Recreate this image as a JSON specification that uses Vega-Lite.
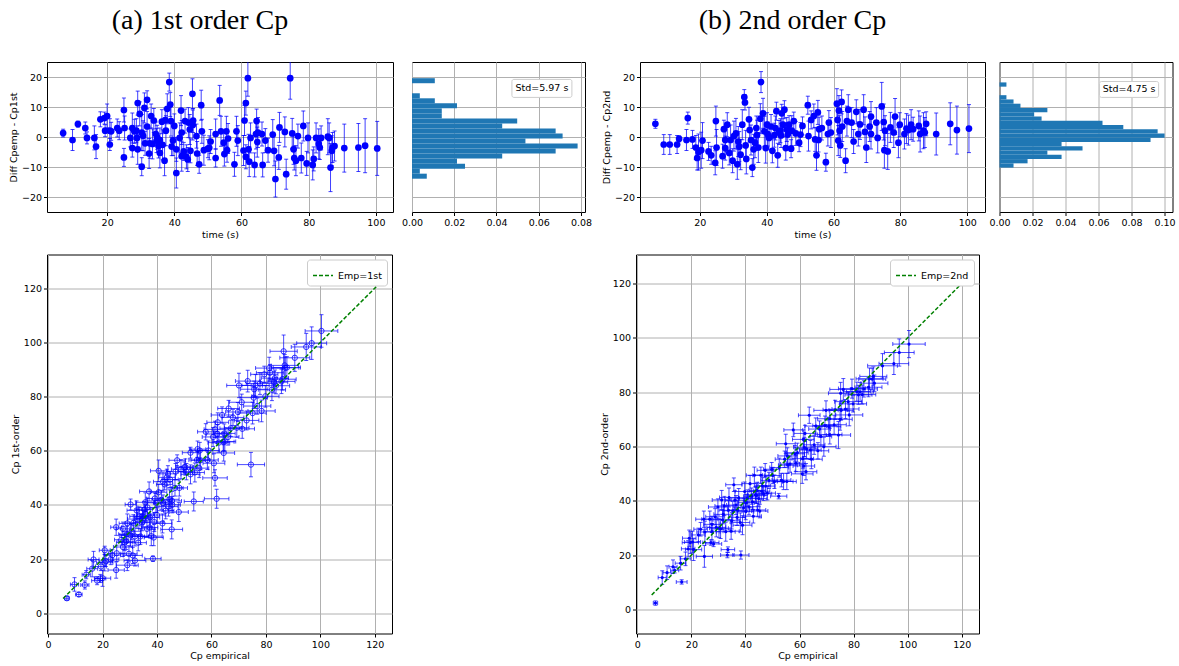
{
"$schema":"https://vega.github.io/schema/vega-lite/v6.json",
"padding":{"left":7,"top":6,"right":0,"bottom":0},
"background":"white",
"config":{
 "font":"DejaVu Sans",
 "view":{"stroke":"black","strokeWidth":1},
 "axis":{"domain":false,"grid":true,"gridColor":"#b0b0b0","gridWidth":1,"tickColor":"black","tickSize":3.5,"tickWidth":1,"labelFont":"DejaVu Sans","labelFontSize":9.5,"labelColor":"black","titleFont":"DejaVu Sans","titleFontSize":9.5,"titleFontWeight":"normal","titleColor":"black","labelPadding":2,"titlePadding":3,"labelFlush":false},
 "title":{"font":"Liberation Serif","fontSize":28,"fontWeight":"normal","anchor":"middle","color":"black","offset":27}
},
"datasets":{
 "A":[
{"t":6.9,"d":1.3,"ed":1.3,"c":5.6,"ex":0.8,"ec":0.7},
{"t":9.7,"d":-1.0,"ed":3.5,"c":10.7,"ex":1.5,"ec":2.5},
{"t":11.3,"d":4.3,"ed":1.0,"c":7.0,"ex":1.2,"ec":0.8},
{"t":13.5,"d":3.0,"ed":2.0,"c":10.5,"ex":1.5,"ec":1.5},
{"t":14.0,"d":-0.3,"ed":2.0,"c":14.3,"ex":1.5,"ec":1.5},
{"t":16.2,"d":-0.3,"ed":4.0,"c":16.5,"ex":2,"ec":3},
{"t":16.7,"d":-3.2,"ed":4.0,"c":19.9,"ex":2,"ec":3},
{"t":18.0,"d":5.9,"ed":2.5,"c":12.1,"ex":2,"ec":1.5},
{"t":19.2,"d":6.3,"ed":2.0,"c":12.9,"ex":2,"ec":1.5},
{"t":19.4,"d":2.1,"ed":2.0,"c":17.3,"ex":2,"ec":1.5},
{"t":20.0,"d":7.0,"ed":4.0,"c":13.0,"ex":3,"ec":3},
{"t":20.8,"d":2.1,"ed":4.0,"c":18.7,"ex":3,"ec":3},
{"t":20.8,"d":-2.5,"ed":2.0,"c":23.3,"ex":2,"ec":1.5},
{"t":21.2,"d":1.9,"ed":3.0,"c":19.3,"ex":2.5,"ec":2},
{"t":23.0,"d":3.0,"ed":3.0,"c":20.0,"ex":3,"ec":2},
{"t":23.6,"d":2.1,"ed":3.0,"c":21.5,"ex":3,"ec":2},
{"t":25.0,"d":9.0,"ed":4.0,"c":16.0,"ex":3,"ec":3},
{"t":25.0,"d":-6.8,"ed":3.0,"c":31.8,"ex":2,"ec":3},
{"t":25.2,"d":3.0,"ed":4.0,"c":22.2,"ex":3,"ec":3},
{"t":26.9,"d":-0.3,"ed":3.0,"c":27.2,"ex":2.5,"ec":2},
{"t":27.5,"d":-3.7,"ed":3.0,"c":31.2,"ex":2.5,"ec":2.5},
{"t":27.5,"d":3.0,"ed":5.0,"c":24.5,"ex":3.5,"ec":3.5},
{"t":28.1,"d":1.9,"ed":4.0,"c":26.2,"ex":3,"ec":3},
{"t":28.7,"d":2.1,"ed":4.0,"c":26.6,"ex":3,"ec":3},
{"t":29.1,"d":11.3,"ed":4.0,"c":17.8,"ex":4,"ec":2},
{"t":29.1,"d":-4.1,"ed":5.0,"c":33.2,"ex":3,"ec":3.5},
{"t":29.7,"d":7.7,"ed":4.0,"c":22.0,"ex":3,"ec":3},
{"t":30.3,"d":-9.9,"ed":3.0,"c":40.2,"ex":2,"ec":2},
{"t":30.3,"d":1.5,"ed":6.0,"c":28.8,"ex":4,"ec":4},
{"t":31.1,"d":9.7,"ed":5.0,"c":21.4,"ex":3.5,"ec":3},
{"t":31.9,"d":12.4,"ed":3.0,"c":19.5,"ex":4,"ec":2},
{"t":31.9,"d":3.5,"ed":5.0,"c":28.4,"ex":3.5,"ec":3.5},
{"t":32.5,"d":-5.5,"ed":5.0,"c":38.0,"ex":3.5,"ec":3.5},
{"t":32.7,"d":-2.1,"ed":5.0,"c":34.8,"ex":3.5,"ec":3.5},
{"t":33.1,"d":7.0,"ed":4.0,"c":26.1,"ex":3,"ec":3},
{"t":33.5,"d":-2.3,"ed":5.0,"c":35.8,"ex":3.5,"ec":3.5},
{"t":33.9,"d":5.5,"ed":4.0,"c":28.4,"ex":3,"ec":3},
{"t":34.5,"d":1.0,"ed":4.0,"c":33.5,"ex":3,"ec":3},
{"t":34.7,"d":-1.2,"ed":4.0,"c":35.9,"ex":3,"ec":3},
{"t":35.3,"d":-3.0,"ed":4.0,"c":38.3,"ex":3,"ec":3},
{"t":35.7,"d":-5.3,"ed":5.0,"c":41.0,"ex":3.5,"ec":3.5},
{"t":36.3,"d":5.1,"ed":4.0,"c":31.2,"ex":3,"ec":3},
{"t":36.5,"d":-2.6,"ed":5.0,"c":39.1,"ex":3.5,"ec":3.5},
{"t":37.1,"d":-7.9,"ed":5.0,"c":45.0,"ex":3.5,"ec":3.5},
{"t":37.5,"d":2.1,"ed":5.0,"c":35.4,"ex":3.5,"ec":3.5},
{"t":37.9,"d":9.4,"ed":5.0,"c":28.5,"ex":4,"ec":3.5},
{"t":38.5,"d":18.3,"ed":3.0,"c":20.2,"ex":3,"ec":1},
{"t":38.8,"d":10.8,"ed":4.0,"c":28.0,"ex":3.5,"ec":3},
{"t":39.0,"d":5.3,"ed":5.0,"c":33.7,"ex":3.5,"ec":3.5},
{"t":39.2,"d":-3.2,"ed":3.0,"c":42.4,"ex":3,"ec":2},
{"t":39.6,"d":-1.2,"ed":5.0,"c":40.8,"ex":3.5,"ec":3.5},
{"t":40.0,"d":3.7,"ed":4.0,"c":36.3,"ex":3,"ec":3},
{"t":40.6,"d":-12.0,"ed":5.0,"c":52.6,"ex":3,"ec":4},
{"t":41.6,"d":-0.3,"ed":5.0,"c":41.9,"ex":3.5,"ec":3.5},
{"t":42.0,"d":8.8,"ed":5.0,"c":33.2,"ex":3.5,"ec":3.5},
{"t":42.2,"d":1.5,"ed":4.0,"c":40.7,"ex":3,"ec":3},
{"t":42.8,"d":-4.8,"ed":3.0,"c":47.6,"ex":3,"ec":2},
{"t":43.2,"d":5.3,"ed":4.0,"c":37.9,"ex":3,"ec":3},
{"t":43.6,"d":-6.6,"ed":4.0,"c":50.2,"ex":3,"ec":3},
{"t":44.0,"d":-7.5,"ed":4.0,"c":51.5,"ex":3,"ec":3},
{"t":44.2,"d":4.8,"ed":5.0,"c":39.4,"ex":3.5,"ec":3.5},
{"t":44.8,"d":-4.6,"ed":4.0,"c":49.4,"ex":3,"ec":3},
{"t":45.4,"d":14.4,"ed":5.0,"c":31.0,"ex":4,"ec":3.5},
{"t":45.6,"d":5.5,"ed":4.0,"c":40.1,"ex":3,"ec":3},
{"t":46.6,"d":0.3,"ed":4.0,"c":46.3,"ex":3,"ec":3},
{"t":46.8,"d":-5.5,"ed":4.0,"c":52.3,"ex":3,"ec":3},
{"t":47.4,"d":-9.1,"ed":3.0,"c":56.5,"ex":3,"ec":2},
{"t":48.0,"d":10.6,"ed":5.0,"c":37.4,"ex":3.5,"ec":3.5},
{"t":48.2,"d":1.9,"ed":4.0,"c":46.3,"ex":3,"ec":3},
{"t":48.8,"d":-4.4,"ed":5.0,"c":53.2,"ex":3.5,"ec":3.5},
{"t":50.0,"d":-3.9,"ed":3.0,"c":53.9,"ex":3,"ec":2},
{"t":50.8,"d":-1.5,"ed":4.0,"c":52.3,"ex":3,"ec":3},
{"t":52.3,"d":-7.0,"ed":3.0,"c":59.3,"ex":3,"ec":2},
{"t":52.3,"d":1.0,"ed":5.0,"c":51.3,"ex":3.5,"ec":3.5},
{"t":53.5,"d":12.2,"ed":5.0,"c":41.3,"ex":3.5,"ec":3.5},
{"t":53.9,"d":1.9,"ed":5.0,"c":52.0,"ex":3.5,"ec":3.5},
{"t":54.7,"d":-1.9,"ed":4.0,"c":56.6,"ex":3,"ec":3},
{"t":54.9,"d":-5.7,"ed":4.0,"c":60.6,"ex":3,"ec":3},
{"t":55.5,"d":1.9,"ed":5.0,"c":53.6,"ex":3.5,"ec":3.5},
{"t":55.7,"d":-4.4,"ed":4.0,"c":60.1,"ex":3,"ec":3},
{"t":57.9,"d":-9.1,"ed":4.0,"c":67.0,"ex":3,"ec":3},
{"t":58.5,"d":1.9,"ed":5.0,"c":56.6,"ex":4,"ec":3.5},
{"t":58.9,"d":-1.2,"ed":5.0,"c":60.1,"ex":4,"ec":3.5},
{"t":60.9,"d":5.5,"ed":5.0,"c":55.4,"ex":4,"ec":3.5},
{"t":61.3,"d":11.3,"ed":4.0,"c":50.0,"ex":4.5,"ec":3},
{"t":61.3,"d":-6.6,"ed":4.0,"c":67.9,"ex":4,"ec":3},
{"t":61.9,"d":19.6,"ed":6.0,"c":42.3,"ex":4.5,"ec":3.5},
{"t":62.1,"d":-4.1,"ed":5.0,"c":66.2,"ex":4,"ec":3.5},
{"t":62.3,"d":-8.2,"ed":5.0,"c":70.5,"ex":4,"ec":3.5},
{"t":62.7,"d":-0.3,"ed":5.0,"c":63.0,"ex":4,"ec":3.5},
{"t":63.9,"d":-9.3,"ed":4.0,"c":73.2,"ex":4,"ec":3},
{"t":64.3,"d":1.0,"ed":5.0,"c":63.3,"ex":4,"ec":3.5},
{"t":64.5,"d":5.3,"ed":4.0,"c":59.2,"ex":4,"ec":3},
{"t":64.7,"d":-1.7,"ed":5.0,"c":66.4,"ex":4,"ec":3.5},
{"t":66.1,"d":1.0,"ed":4.0,"c":65.1,"ex":4,"ec":3},
{"t":66.3,"d":-9.3,"ed":4.0,"c":75.6,"ex":4,"ec":3},
{"t":67.1,"d":-1.2,"ed":4.0,"c":68.3,"ex":4,"ec":3},
{"t":67.9,"d":-4.4,"ed":4.0,"c":72.3,"ex":4,"ec":3},
{"t":69.3,"d":0.8,"ed":5.0,"c":68.5,"ex":4.5,"ec":3.5},
{"t":69.7,"d":-4.6,"ed":5.0,"c":74.3,"ex":4.5,"ec":3.5},
{"t":70.1,"d":-14.0,"ed":6.0,"c":84.1,"ex":4.5,"ec":4.5},
{"t":71.1,"d":-6.8,"ed":4.0,"c":77.9,"ex":4.5,"ec":3},
{"t":71.3,"d":3.2,"ed":5.0,"c":68.1,"ex":4.5,"ec":3.5},
{"t":72.9,"d":1.7,"ed":5.0,"c":71.2,"ex":4.5,"ec":3.5},
{"t":73.3,"d":-12.4,"ed":5.0,"c":85.7,"ex":4.5,"ec":4},
{"t":74.5,"d":19.6,"ed":7.0,"c":54.9,"ex":5,"ec":4.5},
{"t":75.1,"d":1.2,"ed":5.0,"c":73.9,"ex":5,"ec":4},
{"t":75.5,"d":-4.1,"ed":5.0,"c":79.6,"ex":5,"ec":4},
{"t":75.7,"d":-7.0,"ed":4.0,"c":82.7,"ex":5,"ec":3},
{"t":76.2,"d":-7.9,"ed":5.0,"c":84.1,"ex":5,"ec":4},
{"t":76.8,"d":0.3,"ed":4.0,"c":76.5,"ex":5,"ec":3},
{"t":77.8,"d":-7.0,"ed":5.0,"c":84.8,"ex":5,"ec":4},
{"t":78.4,"d":3.7,"ed":5.0,"c":74.7,"ex":5,"ec":4},
{"t":79.4,"d":-8.8,"ed":4.0,"c":88.2,"ex":5,"ec":3},
{"t":79.8,"d":-0.3,"ed":5.0,"c":80.1,"ex":5,"ec":4},
{"t":81.2,"d":-9.3,"ed":5.0,"c":90.5,"ex":5,"ec":4},
{"t":81.5,"d":-7.3,"ed":4.0,"c":88.8,"ex":5,"ec":3},
{"t":82.2,"d":-0.3,"ed":5.0,"c":82.5,"ex":5,"ec":4},
{"t":83.0,"d":-2.3,"ed":5.0,"c":85.3,"ex":5,"ec":4},
{"t":83.3,"d":-3.5,"ed":4.0,"c":86.8,"ex":5,"ec":3},
{"t":83.7,"d":-0.3,"ed":4.0,"c":84.0,"ex":5,"ec":3},
{"t":85.7,"d":0.1,"ed":6.0,"c":85.6,"ex":5,"ec":4.5},
{"t":86.1,"d":-0.3,"ed":5.0,"c":86.4,"ex":5,"ec":4},
{"t":86.5,"d":-10.2,"ed":8.0,"c":96.7,"ex":5,"ec":6},
{"t":86.9,"d":-4.6,"ed":5.0,"c":91.5,"ex":5,"ec":4},
{"t":87.1,"d":-3.5,"ed":5.0,"c":90.6,"ex":5,"ec":4},
{"t":87.7,"d":-3.0,"ed":5.0,"c":90.7,"ex":5,"ec":4},
{"t":90.6,"d":-3.7,"ed":8.0,"c":94.3,"ex":5.5,"ec":5},
{"t":94.8,"d":-3.5,"ed":8.0,"c":98.3,"ex":5.5,"ec":5},
{"t":96.8,"d":-2.9,"ed":9.0,"c":99.7,"ex":5.5,"ec":6},
{"t":100.4,"d":-3.8,"ed":9.0,"c":104.2,"ex":6,"ec":6},
{"t":28.9,"d":-0.3,"ed":4.0,"c":29.2,"ex":3,"ec":3},
{"t":31.3,"d":-2.1,"ed":4.0,"c":33.4,"ex":3,"ec":3},
{"t":30.7,"d":0.4,"ed":5.0,"c":30.3,"ex":3.5,"ec":3},
{"t":35.7,"d":-1.0,"ed":4.0,"c":36.7,"ex":3,"ec":3},
{"t":40.6,"d":-4.1,"ed":4.0,"c":44.7,"ex":3,"ec":3},
{"t":42.2,"d":-6.4,"ed":5.0,"c":48.6,"ex":3.5,"ec":3.5},
{"t":34.9,"d":-0.1,"ed":4.0,"c":35.0,"ex":3,"ec":3},
{"t":37.3,"d":5.6,"ed":4.0,"c":31.7,"ex":3,"ec":3},
{"t":44.6,"d":2.5,"ed":5.0,"c":42.1,"ex":3.5,"ec":3.5},
{"t":50.4,"d":-3.6,"ed":4.0,"c":54.0,"ex":3,"ec":3},
{"t":56.0,"d":-0.5,"ed":5.0,"c":56.5,"ex":3.5,"ec":3.5},
{"t":60.6,"d":-4.5,"ed":5.0,"c":65.1,"ex":4,"ec":3.5},
{"t":64.9,"d":1.5,"ed":5.0,"c":63.4,"ex":4,"ec":3.5},
{"t":45.5,"d":4.0,"ed":5.0,"c":41.5,"ex":3.5,"ec":3.5}
 ],
 "B":[
{"t":6.7,"d":4.4,"ed":1.5,"c":2.3,"ex":0.8,"ec":0.8},
{"t":9.2,"d":-2.5,"ed":3.3,"c":11.7,"ex":1.5,"ec":2.5},
{"t":11.0,"d":-2.5,"ed":3.3,"c":13.5,"ex":1.5,"ec":2.5},
{"t":13.2,"d":-2.5,"ed":3.0,"c":15.7,"ex":1.5,"ec":2.5},
{"t":13.8,"d":-0.6,"ed":1.0,"c":14.4,"ex":1.5,"ec":1},
{"t":16.0,"d":-1.0,"ed":3.5,"c":17.0,"ex":2,"ec":2.5},
{"t":16.4,"d":6.3,"ed":2.0,"c":10.1,"ex":2,"ec":0.8},
{"t":17.8,"d":-0.8,"ed":3.0,"c":18.6,"ex":2,"ec":2.5},
{"t":18.8,"d":-3.5,"ed":4.0,"c":22.3,"ex":2.5,"ec":3},
{"t":19.2,"d":-7.0,"ed":4.0,"c":26.2,"ex":2.5,"ec":3},
{"t":19.6,"d":-5.0,"ed":6.0,"c":24.6,"ex":3,"ec":4},
{"t":20.4,"d":-4.4,"ed":6.0,"c":24.8,"ex":3,"ec":4},
{"t":20.8,"d":-1.2,"ed":6.0,"c":22.0,"ex":3,"ec":4},
{"t":22.6,"d":-4.8,"ed":3.0,"c":27.4,"ex":2.5,"ec":2.5},
{"t":23.4,"d":-6.1,"ed":3.0,"c":29.5,"ex":2.5,"ec":2.5},
{"t":24.6,"d":-8.6,"ed":4.0,"c":33.2,"ex":3,"ec":3},
{"t":24.8,"d":5.3,"ed":5.0,"c":19.5,"ex":3,"ec":4},
{"t":25.0,"d":-3.5,"ed":6.0,"c":28.5,"ex":3,"ec":4},
{"t":26.8,"d":-6.4,"ed":4.0,"c":33.2,"ex":3,"ec":3},
{"t":27.2,"d":2.6,"ed":3.0,"c":24.6,"ex":3,"ec":1},
{"t":27.6,"d":-1.0,"ed":4.0,"c":28.6,"ex":3,"ec":3},
{"t":27.6,"d":-3.7,"ed":4.0,"c":31.3,"ex":3,"ec":3},
{"t":28.2,"d":4.1,"ed":4.0,"c":24.1,"ex":3,"ec":1},
{"t":28.8,"d":-5.3,"ed":4.0,"c":34.1,"ex":3.5,"ec":3},
{"t":29.2,"d":-1.0,"ed":5.0,"c":30.2,"ex":3.5,"ec":3.5},
{"t":29.8,"d":-7.9,"ed":4.0,"c":37.7,"ex":3.5,"ec":3},
{"t":30.2,"d":0.3,"ed":5.0,"c":29.9,"ex":3.5,"ec":3.5},
{"t":30.8,"d":1.2,"ed":5.0,"c":29.6,"ex":3.5,"ec":3.5},
{"t":31.2,"d":-9.1,"ed":5.0,"c":40.3,"ex":3.5,"ec":3.5},
{"t":31.8,"d":-3.2,"ed":5.0,"c":35.0,"ex":3.5,"ec":3.5},
{"t":32.2,"d":-5.9,"ed":5.0,"c":38.1,"ex":3.5,"ec":3.5},
{"t":32.7,"d":4.1,"ed":5.0,"c":28.6,"ex":3.5,"ec":3.5},
{"t":33.3,"d":13.3,"ed":2.5,"c":20.0,"ex":2.5,"ec":1},
{"t":33.5,"d":11.5,"ed":2.5,"c":22.0,"ex":2.5,"ec":1},
{"t":33.7,"d":-2.8,"ed":5.0,"c":36.5,"ex":3.5,"ec":3.5},
{"t":33.9,"d":-7.3,"ed":5.0,"c":41.2,"ex":3.5,"ec":3.5},
{"t":34.7,"d":5.9,"ed":4.0,"c":28.8,"ex":3,"ec":3},
{"t":34.9,"d":2.3,"ed":4.0,"c":32.6,"ex":3,"ec":3},
{"t":35.3,"d":-1.0,"ed":5.0,"c":36.3,"ex":3.5,"ec":3.5},
{"t":35.7,"d":-10.2,"ed":3.0,"c":45.9,"ex":3,"ec":2.5},
{"t":36.1,"d":-4.1,"ed":5.0,"c":40.2,"ex":3.5,"ec":3.5},
{"t":36.5,"d":-1.9,"ed":5.0,"c":38.4,"ex":3.5,"ec":3.5},
{"t":37.1,"d":0.6,"ed":5.0,"c":36.5,"ex":3.5,"ec":3.5},
{"t":37.5,"d":-3.5,"ed":5.0,"c":41.0,"ex":3.5,"ec":3.5},
{"t":38.1,"d":6.1,"ed":5.0,"c":32.0,"ex":3.5,"ec":3.5},
{"t":38.3,"d":18.3,"ed":3.5,"c":20.0,"ex":3,"ec":1.5},
{"t":38.9,"d":7.9,"ed":5.0,"c":31.0,"ex":3.5,"ec":3.5},
{"t":39.3,"d":1.9,"ed":5.0,"c":37.4,"ex":3.5,"ec":3.5},
{"t":39.7,"d":-3.7,"ed":5.0,"c":43.4,"ex":3.5,"ec":3.5},
{"t":40.1,"d":4.1,"ed":4.0,"c":36.0,"ex":3,"ec":3},
{"t":40.7,"d":-0.3,"ed":4.0,"c":41.0,"ex":3,"ec":3},
{"t":41.3,"d":3.5,"ed":4.0,"c":37.8,"ex":3,"ec":3},
{"t":41.7,"d":-4.6,"ed":4.0,"c":46.3,"ex":3,"ec":3},
{"t":42.3,"d":0.6,"ed":4.0,"c":41.7,"ex":3,"ec":3},
{"t":42.9,"d":8.6,"ed":3.0,"c":34.3,"ex":3,"ec":2.5},
{"t":43.3,"d":-6.1,"ed":4.0,"c":49.4,"ex":3,"ec":3},
{"t":43.7,"d":1.5,"ed":4.0,"c":42.2,"ex":3,"ec":3},
{"t":44.1,"d":2.1,"ed":4.0,"c":42.0,"ex":3,"ec":3},
{"t":44.5,"d":7.9,"ed":3.0,"c":36.6,"ex":3,"ec":2.5},
{"t":44.9,"d":4.1,"ed":4.0,"c":40.8,"ex":3,"ec":3},
{"t":45.3,"d":9.1,"ed":3.0,"c":36.2,"ex":3,"ec":2.5},
{"t":45.7,"d":-3.7,"ed":4.0,"c":49.4,"ex":3,"ec":3},
{"t":46.3,"d":0.8,"ed":4.0,"c":45.5,"ex":3,"ec":3},
{"t":46.7,"d":4.1,"ed":3.0,"c":42.6,"ex":3,"ec":2.5},
{"t":47.3,"d":-3.9,"ed":3.0,"c":51.2,"ex":3,"ec":2.5},
{"t":47.5,"d":2.1,"ed":5.0,"c":45.4,"ex":3.5,"ec":3.5},
{"t":48.1,"d":5.3,"ed":3.0,"c":42.8,"ex":3,"ec":2.5},
{"t":48.7,"d":1.2,"ed":4.0,"c":47.5,"ex":3,"ec":3},
{"t":49.7,"d":-1.9,"ed":3.0,"c":51.6,"ex":3,"ec":2.5},
{"t":50.7,"d":3.7,"ed":3.0,"c":47.0,"ex":3,"ec":2.5},
{"t":52.3,"d":10.6,"ed":3.0,"c":41.7,"ex":3,"ec":1},
{"t":52.5,"d":0.3,"ed":5.0,"c":52.2,"ex":3.5,"ec":3.5},
{"t":53.3,"d":5.7,"ed":3.0,"c":47.6,"ex":3.5,"ec":2.5},
{"t":54.1,"d":7.0,"ed":4.0,"c":47.1,"ex":3.5,"ec":3},
{"t":54.5,"d":-0.8,"ed":4.0,"c":55.3,"ex":3.5,"ec":3},
{"t":54.9,"d":-6.1,"ed":5.0,"c":61.0,"ex":3.5,"ec":3.5},
{"t":55.3,"d":8.2,"ed":4.0,"c":47.1,"ex":3.5,"ec":3},
{"t":55.5,"d":-1.0,"ed":4.0,"c":56.5,"ex":3.5,"ec":3},
{"t":55.7,"d":2.6,"ed":4.0,"c":53.1,"ex":3.5,"ec":3},
{"t":57.7,"d":-8.4,"ed":3.0,"c":66.1,"ex":3.5,"ec":2.5},
{"t":58.3,"d":1.0,"ed":4.0,"c":57.3,"ex":3.5,"ec":3},
{"t":58.6,"d":4.8,"ed":4.0,"c":53.8,"ex":3.5,"ec":3},
{"t":59.2,"d":1.5,"ed":5.0,"c":57.7,"ex":4,"ec":3.5},
{"t":61.0,"d":11.1,"ed":5.0,"c":49.9,"ex":4,"ec":3.5},
{"t":61.2,"d":5.7,"ed":5.0,"c":55.5,"ex":4,"ec":3.5},
{"t":61.4,"d":-1.2,"ed":5.0,"c":62.6,"ex":4,"ec":3.5},
{"t":61.6,"d":8.8,"ed":5.0,"c":52.8,"ex":4,"ec":3.5},
{"t":61.8,"d":2.1,"ed":5.0,"c":59.7,"ex":4,"ec":3.5},
{"t":62.0,"d":-2.8,"ed":4.0,"c":64.8,"ex":4,"ec":3},
{"t":62.4,"d":11.7,"ed":4.0,"c":50.7,"ex":4,"ec":3},
{"t":63.6,"d":-7.9,"ed":4.0,"c":71.5,"ex":4,"ec":3},
{"t":64.0,"d":5.3,"ed":5.0,"c":58.7,"ex":4,"ec":3.5},
{"t":64.4,"d":9.1,"ed":5.0,"c":55.3,"ex":4,"ec":3.5},
{"t":65.4,"d":4.8,"ed":5.0,"c":60.6,"ex":4,"ec":3.5},
{"t":66.0,"d":-1.5,"ed":4.0,"c":67.5,"ex":4,"ec":3},
{"t":66.8,"d":8.4,"ed":4.0,"c":58.4,"ex":4,"ec":3},
{"t":67.4,"d":1.0,"ed":4.0,"c":66.4,"ex":4,"ec":3},
{"t":69.0,"d":9.1,"ed":5.0,"c":59.9,"ex":4.5,"ec":3.5},
{"t":69.4,"d":1.7,"ed":5.0,"c":67.7,"ex":4.5,"ec":3.5},
{"t":69.8,"d":-3.5,"ed":5.0,"c":73.3,"ex":4.5,"ec":3.5},
{"t":70.8,"d":3.5,"ed":5.0,"c":67.3,"ex":4.5,"ec":3.5},
{"t":71.2,"d":6.8,"ed":5.0,"c":64.4,"ex":4.5,"ec":3.5},
{"t":71.2,"d":1.0,"ed":5.0,"c":70.2,"ex":4.5,"ec":3.5},
{"t":72.8,"d":4.8,"ed":5.0,"c":68.0,"ex":4.5,"ec":3.5},
{"t":73.2,"d":-0.3,"ed":5.0,"c":73.5,"ex":4.5,"ec":3.5},
{"t":74.4,"d":10.2,"ed":8.0,"c":64.2,"ex":4.5,"ec":5},
{"t":75.0,"d":5.0,"ed":6.0,"c":70.0,"ex":4.5,"ec":4},
{"t":75.2,"d":-4.4,"ed":6.0,"c":79.6,"ex":4.5,"ec":4},
{"t":75.4,"d":2.1,"ed":5.0,"c":73.3,"ex":4.5,"ec":3.5},
{"t":76.2,"d":-4.8,"ed":6.0,"c":81.0,"ex":5,"ec":4},
{"t":77.0,"d":3.2,"ed":5.0,"c":73.8,"ex":5,"ec":3.5},
{"t":78.0,"d":1.5,"ed":5.0,"c":76.5,"ex":5,"ec":3.5},
{"t":78.4,"d":6.8,"ed":6.0,"c":71.6,"ex":5,"ec":4},
{"t":79.4,"d":-1.9,"ed":5.0,"c":81.3,"ex":5,"ec":3.5},
{"t":79.8,"d":4.1,"ed":4.0,"c":75.7,"ex":5,"ec":3},
{"t":81.2,"d":1.0,"ed":5.0,"c":80.2,"ex":5,"ec":3.5},
{"t":81.8,"d":2.8,"ed":5.0,"c":79.0,"ex":5,"ec":3.5},
{"t":82.4,"d":2.3,"ed":5.0,"c":80.1,"ex":5,"ec":3.5},
{"t":83.2,"d":4.1,"ed":5.0,"c":79.1,"ex":5,"ec":3.5},
{"t":83.8,"d":2.6,"ed":4.0,"c":81.2,"ex":5,"ec":3},
{"t":85.5,"d":3.7,"ed":5.0,"c":81.8,"ex":5,"ec":3.5},
{"t":85.9,"d":1.0,"ed":6.0,"c":84.9,"ex":5,"ec":4},
{"t":86.9,"d":2.1,"ed":6.0,"c":84.8,"ex":5,"ec":4},
{"t":87.3,"d":1.5,"ed":5.0,"c":85.8,"ex":5,"ec":3.5},
{"t":87.7,"d":4.4,"ed":4.0,"c":83.3,"ex":5,"ec":3},
{"t":90.7,"d":1.0,"ed":7.0,"c":89.7,"ex":5.5,"ec":4.5},
{"t":94.9,"d":4.4,"ed":7.0,"c":90.5,"ex":5.5,"ec":4},
{"t":96.9,"d":2.3,"ed":8.0,"c":94.6,"ex":5.5,"ec":5},
{"t":100.5,"d":2.8,"ed":8.0,"c":97.7,"ex":6,"ec":5},
{"t":36.9,"d":3.0,"ed":4.0,"c":33.9,"ex":3,"ec":3},
{"t":40.3,"d":1.0,"ed":4.0,"c":39.3,"ex":3,"ec":3},
{"t":42.6,"d":3.0,"ed":4.0,"c":39.6,"ex":3,"ec":3},
{"t":44.3,"d":0.5,"ed":4.0,"c":43.8,"ex":3,"ec":3},
{"t":46.0,"d":2.5,"ed":4.0,"c":43.5,"ex":3,"ec":3},
{"t":31.5,"d":-1.5,"ed":5.0,"c":33.0,"ex":3.5,"ec":3.5},
{"t":50.1,"d":0.8,"ed":4.0,"c":49.3,"ex":3,"ec":3},
{"t":56.5,"d":3.0,"ed":4.0,"c":53.5,"ex":3.5,"ec":3},
{"t":62.6,"d":3.5,"ed":5.0,"c":59.1,"ex":4,"ec":3.5},
{"t":67.9,"d":4.2,"ed":5.0,"c":63.7,"ex":4,"ec":3.5}
 ],
 "hA":[
{"lo":-13.9,"hi":-12.225,"p":0.007},{"lo":-12.225,"hi":-10.55,"p":0.0037},{"lo":-10.55,"hi":-8.875,"p":0.0251},{"lo":-8.875,"hi":-7.2,"p":0.0213},{"lo":-7.2,"hi":-5.525,"p":0.0427},{"lo":-5.525,"hi":-3.85,"p":0.068},{"lo":-3.85,"hi":-2.175,"p":0.0784},{"lo":-2.175,"hi":-0.5,"p":0.0537},{"lo":-0.5,"hi":1.175,"p":0.0713},{"lo":1.175,"hi":2.85,"p":0.068},{"lo":2.85,"hi":4.525,"p":0.0427},{"lo":4.525,"hi":6.2,"p":0.0498},{"lo":6.2,"hi":7.875,"p":0.0141},{"lo":7.875,"hi":9.55,"p":0.0141},{"lo":9.55,"hi":11.225,"p":0.0213},{"lo":11.225,"hi":12.9,"p":0.0108},{"lo":12.9,"hi":14.575,"p":0.0037},{"lo":17.925,"hi":19.6,"p":0.0108}
 ],
 "hB":[
{"lo":-10.2,"hi":-8.78,"p":0.0085},{"lo":-8.78,"hi":-7.36,"p":0.017},{"lo":-7.36,"hi":-5.94,"p":0.0376},{"lo":-5.94,"hi":-4.52,"p":0.029},{"lo":-4.52,"hi":-3.1,"p":0.0503},{"lo":-3.1,"hi":-1.68,"p":0.0376},{"lo":-1.68,"hi":-0.26,"p":0.0915},{"lo":-0.26,"hi":1.16,"p":0.1},{"lo":1.16,"hi":2.58,"p":0.0958},{"lo":2.58,"hi":4.0,"p":0.075},{"lo":4.0,"hi":5.42,"p":0.0624},{"lo":5.42,"hi":6.84,"p":0.0255},{"lo":6.84,"hi":8.26,"p":0.021},{"lo":8.26,"hi":9.68,"p":0.029},{"lo":9.68,"hi":11.1,"p":0.0127},{"lo":11.1,"hi":12.52,"p":0.0085},{"lo":12.52,"hi":13.94,"p":0.0042},{"lo":16.78,"hi":18.2,"p":0.0042}
 ]
},
"spacing":14.5,
"resolve":{"scale":{"x":"independent","y":"independent","color":"independent"},"legend":{"color":"independent"}},
"vconcat":[
 {"spacing":7,
  "resolve":{"scale":{"x":"independent","y":"independent","color":"independent"}},
  "hconcat":[
  {"spacing":6,
   "resolve":{"scale":{"x":"independent","y":"independent"}},
   "hconcat":[
    {"width":346,"height":150,
     "title":{"text":"(a) 1st order Cp","dx":-20},
     "data":{"name":"A"},
     "encoding":{
      "x":{"field":"t","type":"quantitative","scale":{"domain":[2.1,105.1],"nice":false,"zero":false},"axis":{"values":[20,40,60,80,100],"title":"time (s)","titlePadding":2}},
      "y":{"field":"d","type":"quantitative","scale":{"domain":[-25,25],"nice":false},"axis":{"values":[-20,-10,0,10,20],"title":"Diff Cpemp - Cp1st"}}},
     "layer":[
      {"mark":{"type":"errorbar","ticks":{"size":4},"color":"#0000ff","opacity":0.75,"thickness":1,"clip":true},"encoding":{"yError":{"field":"ed"}}},
      {"mark":{"type":"point","filled":true,"color":"#0000ff","size":45,"opacity":1,"clip":true}}
     ]},
    {"width":173,"height":150,
     "encoding":{
      "x":{"field":"p","type":"quantitative","scale":{"domain":[0,0.0819],"nice":false},"axis":{"values":[0,0.02,0.04,0.06,0.08],"format":".2f","title":null}},
      "y":{"field":"lo","type":"quantitative","scale":{"domain":[-25,25],"nice":false},"axis":{"values":[-20,-10,0,10,20],"labels":false,"ticks":false,"title":null}}},
     "layer":[
      {"data":{"name":"hA"},"mark":{"type":"rect","color":"#1f77b4"},"encoding":{"x2":{"datum":0},"y2":{"field":"hi"}}},
      {"data":{"values":[{"p":0.0473,"p2":0.0757,"lo":13.2,"hi":19.2}]},"mark":{"type":"rect","fill":"white","stroke":"#cccccc","strokeWidth":1,"cornerRadius":2},"encoding":{"x2":{"field":"p2"},"y2":{"field":"hi"}}},
      {"data":{"values":[{"p":0.0615,"lo":16.2,"label":"Std=5.97 s"}]},"mark":{"type":"text","fontSize":9.5,"font":"DejaVu Sans","color":"black"},"encoding":{"text":{"field":"label"}}}
     ]}
   ]},
  {"spacing":1.5,
   "resolve":{"scale":{"x":"independent","y":"independent"}},
   "hconcat":[
    {"width":345,"height":150,
     "title":{"text":"(b) 2nd order Cp","dx":-20},
     "data":{"name":"B"},
     "encoding":{
      "x":{"field":"t","type":"quantitative","scale":{"domain":[2.1,105.3],"nice":false,"zero":false},"axis":{"values":[20,40,60,80,100],"title":"time (s)","titlePadding":2}},
      "y":{"field":"d","type":"quantitative","scale":{"domain":[-25,25],"nice":false},"axis":{"values":[-20,-10,0,10,20],"title":"Diff Cpemp - Cp2nd"}}},
     "layer":[
      {"mark":{"type":"errorbar","ticks":{"size":4},"color":"#0000ff","opacity":0.75,"thickness":1,"clip":true},"encoding":{"yError":{"field":"ed"}}},
      {"mark":{"type":"point","filled":true,"color":"#0000ff","size":45,"opacity":1,"clip":true}}
     ]},
    {"width":173,"height":150,
     "encoding":{
      "x":{"field":"p","type":"quantitative","scale":{"domain":[0,0.1048],"nice":false},"axis":{"values":[0,0.02,0.04,0.06,0.08,0.1],"format":".2f","title":null}},
      "y":{"field":"lo","type":"quantitative","scale":{"domain":[-25,25],"nice":false},"axis":{"values":[-20,-10,0,10,20],"labels":false,"ticks":false,"title":null}}},
     "layer":[
      {"data":{"name":"hB"},"mark":{"type":"rect","color":"#1f77b4"},"encoding":{"x2":{"datum":0},"y2":{"field":"hi"}}},
      {"data":{"values":[{"p":0.0606,"p2":0.0964,"lo":13.2,"hi":18.5}]},"mark":{"type":"rect","fill":"white","stroke":"#cccccc","strokeWidth":1,"cornerRadius":2},"encoding":{"x2":{"field":"p2"},"y2":{"field":"hi"}}},
      {"data":{"values":[{"p":0.0785,"lo":15.85,"label":"Std=4.75 s"}]},"mark":{"type":"text","fontSize":9.5,"font":"DejaVu Sans","color":"black"},"encoding":{"text":{"field":"label"}}}
     ]}
   ]}
 ]},
 {"spacing":205,
  "resolve":{"scale":{"x":"independent","y":"independent","color":"independent"},"legend":{"color":"independent"}},
  "hconcat":[
   {"width":345,"height":379,
    "encoding":{
     "x":{"field":"t","type":"quantitative","scale":{"domain":[-0.4,126.3],"nice":false,"zero":false},"axis":{"values":[0,20,40,60,80,100,120],"title":"Cp empirical","titlePadding":2}},
     "y":{"field":"c","type":"quantitative","scale":{"domain":[-7.4,132.4],"nice":false,"zero":false},"axis":{"values":[0,20,40,60,80,100,120],"title":"Cp 1st-order"}}},
    "layer":[
     {"data":{"name":"A"},"mark":{"type":"errorbar","ticks":{"size":4},"color":"#0000ff","opacity":0.7,"thickness":1},"encoding":{"xError":{"field":"ex"}}},
     {"data":{"name":"A"},"mark":{"type":"errorbar","ticks":{"size":4},"color":"#0000ff","opacity":0.7,"thickness":1},"encoding":{"yError":{"field":"ec"}}},
     {"data":{"name":"A"},"mark":{"type":"point","filled":false,"color":"#0000ff","size":28,"strokeWidth":1,"opacity":0.8}},
     {"data":{"values":[{"t":5.5,"c":5.5,"s":"Emp=1st"},{"t":120.5,"c":120.5,"s":"Emp=1st"}]},"mark":{"type":"line","strokeDash":[4,2],"strokeWidth":1.5},
      "encoding":{"color":{"field":"s","type":"nominal","scale":{"range":["#008000"]},"legend":{"title":null,"orient":"top-right","offset":5,"fillColor":"white","strokeColor":"#cccccc","padding":5,"cornerRadius":3,"symbolType":"stroke","symbolStrokeWidth":1.5,"symbolDash":[4,2],"symbolSize":400,"labelFontSize":9.5,"labelFont":"DejaVu Sans","labelColor":"black"}}}}
    ]},
   {"width":343,"height":379,
    "encoding":{
     "x":{"field":"t","type":"quantitative","scale":{"domain":[-0.5,126.4],"nice":false,"zero":false},"axis":{"values":[0,20,40,60,80,100,120],"title":"Cp empirical","titlePadding":2}},
     "y":{"field":"c","type":"quantitative","scale":{"domain":[-8.9,130.7],"nice":false,"zero":false},"axis":{"values":[0,20,40,60,80,100,120],"title":"Cp 2nd-order"}}},
    "layer":[
     {"data":{"name":"B"},"mark":{"type":"errorbar","ticks":{"size":4},"color":"#0000ff","opacity":0.7,"thickness":1},"encoding":{"xError":{"field":"ex"}}},
     {"data":{"name":"B"},"mark":{"type":"errorbar","ticks":{"size":4},"color":"#0000ff","opacity":0.7,"thickness":1},"encoding":{"yError":{"field":"ec"}}},
     {"data":{"name":"B"},"mark":{"type":"point","filled":true,"color":"#0000ff","size":10,"opacity":1}},
     {"data":{"values":[{"t":5.3,"c":5.3,"s":"Emp=2nd"},{"t":120.5,"c":120.5,"s":"Emp=2nd"}]},"mark":{"type":"line","strokeDash":[4,2],"strokeWidth":1.5},
      "encoding":{"color":{"field":"s","type":"nominal","scale":{"range":["#008000"]},"legend":{"title":null,"orient":"top-right","offset":5,"fillColor":"white","strokeColor":"#cccccc","padding":5,"cornerRadius":3,"symbolType":"stroke","symbolStrokeWidth":1.5,"symbolDash":[4,2],"symbolSize":400,"labelFontSize":9.5,"labelFont":"DejaVu Sans","labelColor":"black"}}}}
    ]}
 ]}
]
}
